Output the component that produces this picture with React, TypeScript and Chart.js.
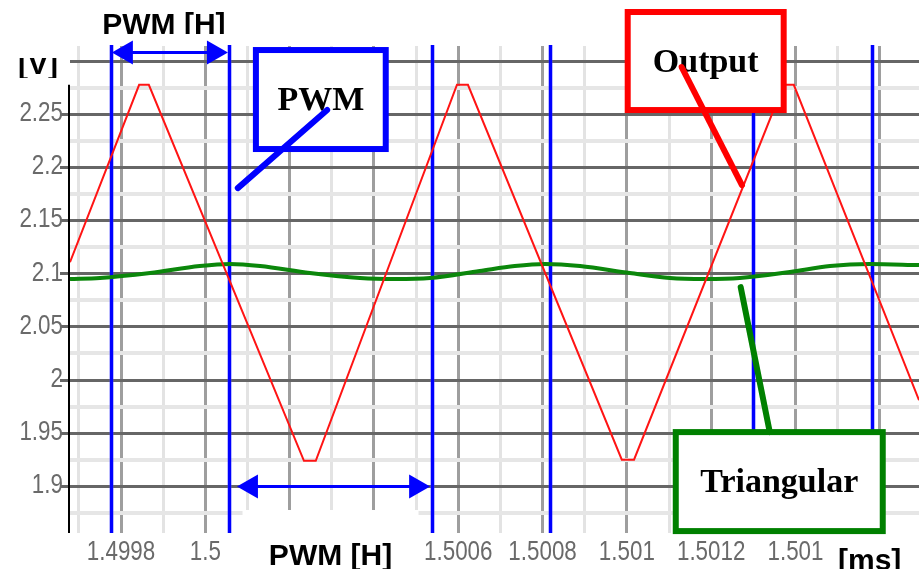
import { useEffect, useRef } from 'react';
import { Chart, registerables } from 'chart.js';

Chart.register(...registerables);

// Time axis in ms, voltage axis in V
const X_MIN = 1.499679;
const X_MAX = 1.501693;
const Y_MIN = 1.856;
const Y_MAX = 2.3145;

// Output (red triangle wave): vertex times and voltages
const outputTime = [
  1.499679, 1.499843, 1.499866, 1.500234, 1.500262, 1.500597,
  1.500623, 1.500988, 1.501017, 1.501372, 1.501396, 1.501693,
];
const outputVolts = [
  2.111, 2.278, 2.278, 1.924, 1.924, 2.278,
  2.278, 1.925, 1.925, 2.278, 2.278, 1.981,
];

// Triangular carrier (green, small ripple around 2.1 V)
const triangularTime = [
  1.499679, 1.49975, 1.499869, 1.499987, 1.500059, 1.50013, 1.500248,
  1.500367, 1.50045, 1.500533, 1.500651, 1.500734, 1.500806, 1.500889,
  1.501007, 1.501102, 1.501185, 1.501268, 1.501387, 1.501482, 1.501576,
  1.501693,
];
const triangularVolts = [
  2.0951, 2.096, 2.1007, 2.1073, 2.1092, 2.1073, 2.1007,
  2.096, 2.0951, 2.096, 2.1026, 2.1073, 2.1092, 2.1073,
  2.1007, 2.096, 2.0951, 2.096, 2.1017, 2.1073, 2.1092,
  2.1082,
];

// PWM switching edges (blue verticals), ms
const pwmEdges = [1.499776, 1.500056, 1.500538, 1.500817, 1.501299, 1.501581];

// Axis ticks
const xMajorTicks = [1.4998, 1.5, 1.5002, 1.5004, 1.5006, 1.5008, 1.501, 1.5012, 1.5014, 1.5016];
const xMajorLabels = ['1.4998', '1.5', '', '', '1.5006', '1.5008', '1.501', '1.5012', '1.501', ''];
const xMinorTicks = [1.4997, 1.4999, 1.5001, 1.5003, 1.5005, 1.5007, 1.5009, 1.5011, 1.5013, 1.5015];

const yMajorTicks = [1.9, 1.95, 2, 2.05, 2.1, 2.15, 2.2, 2.25, 2.3];
const yMajorLabels = ['1.9', '1.95', '2', '2.05', '2.1', '2.15', '2.2', '2.25', ''];
const yMinorTicks = [1.875, 1.925, 1.975, 2.025, 2.075, 2.125, 2.175, 2.225, 2.275];

type TickDef = { value: number; isMajor: boolean; text: string };

function buildTicks(major: number[], labels: string[], minor: number[]): TickDef[] {
  const list: TickDef[] = [
    ...major.map((v, i) => ({ value: v, isMajor: true, text: labels[i] })),
    ...minor.map((v) => ({ value: v, isMajor: false, text: '' })),
  ];
  return list.sort((a, b) => a.value - b.value);
}

const xTicks = buildTicks(xMajorTicks, xMajorLabels, xMinorTicks);
const yTicks = buildTicks(yMajorTicks, yMajorLabels, yMinorTicks);

// Callout boxes (data coordinates) with their pointer lines
const callouts = [
  {
    text: 'PWM', color: '#0000ff',
    box: [1.50012, 2.3107, 1.500428, 2.2175],
    pointer: [1.500289, 2.2542, 1.500077, 2.1807],
  },
  {
    text: 'Output', color: '#ff0000',
    box: [1.501002, 2.3465, 1.501372, 2.2542],
    pointer: [1.50113, 2.2947, 1.501273, 2.1836],
  },
  {
    text: 'Triangular', color: '#008000',
    box: [1.501116, 1.951, 1.501607, 1.8578],
    pointer: [1.501339, 1.951, 1.50127, 2.0875],
  },
];

// PWM period arrows between consecutive edges
const pwmArrows = [
  { from: 0, to: 1, level: 2.3088, gapL: 1, gapR: 1, labelShift: -6, labelSide: 'top' },
  { from: 1, to: 2, level: 1.9, gapL: 8, gapR: 2, labelShift: -3, labelSide: 'bottom' },
];

const TICK_FONT = "28px 'Liberation Sans', Arial, sans-serif";
const TICK_SQUEEZE = 0.8;
const TICK_COLOR = '#6a6a6a';
const LABEL_FONT = "bold 30px 'Liberation Sans', Arial, sans-serif";
const BOX_FONT = "bold 34px 'Liberation Serif', 'Times New Roman', serif";

function arrowHead(ctx: CanvasRenderingContext2D, tipX: number, y: number, dir: number) {
  ctx.beginPath();
  ctx.moveTo(tipX, y);
  ctx.lineTo(tipX - dir * 21, y - 12);
  ctx.lineTo(tipX - dir * 21, y + 12);
  ctx.closePath();
  ctx.fill();
}

// Narrow tick text: horizontally condensed glyphs
function squeezedText(ctx: CanvasRenderingContext2D, text: string, x: number, y: number) {
  ctx.save();
  ctx.translate(x, y);
  ctx.scale(TICK_SQUEEZE, 1);
  ctx.fillText(text, 0, 0);
  ctx.restore();
}

const overlayPlugin = {
  id: 'pwmOverlay',
  beforeDatasetsDraw(chart: any) {
    const { ctx, chartArea, scales } = chart;
    ctx.save();
    for (const t of pwmEdges) {
      const x = Math.round(scales.x.getPixelForValue(t)) + 0.5;
      ctx.strokeStyle = 'rgba(60,60,255,0.35)';
      ctx.lineWidth = 5;
      ctx.beginPath();
      ctx.moveTo(x, chartArea.top - 1);
      ctx.lineTo(x, chartArea.bottom);
      ctx.stroke();
      ctx.strokeStyle = '#0000ff';
      ctx.lineWidth = 3;
      ctx.beginPath();
      ctx.moveTo(x, chartArea.top - 1);
      ctx.lineTo(x, chartArea.bottom);
      ctx.stroke();
    }
    ctx.restore();
  },
  afterDraw(chart: any) {
    const { ctx, chartArea, scales } = chart;
    const X = (t: number) => scales.x.getPixelForValue(t);
    const Y = (v: number) => scales.y.getPixelForValue(v);
    ctx.save();

    // tick labels
    ctx.fillStyle = TICK_COLOR;
    ctx.font = TICK_FONT;
    ctx.textBaseline = 'alphabetic';
    ctx.textAlign = 'center';
    for (const t of xTicks) {
      if (t.text) squeezedText(ctx, t.text, X(t.value), chartArea.bottom + 27);
    }
    ctx.textAlign = 'right';
    ctx.textBaseline = 'middle';
    for (const t of yTicks) {
      if (t.text) squeezedText(ctx, t.text, chartArea.left - 7, Y(t.value) - 1);
    }

    // y axis line
    ctx.strokeStyle = '#000';
    ctx.lineWidth = 2;
    ctx.beginPath();
    ctx.moveTo(chartArea.left - 1, Y(2.28) + 2);
    ctx.lineTo(chartArea.left - 1, chartArea.bottom);
    ctx.stroke();

    // period arrows and their labels
    for (const a of pwmArrows) {
      const x0 = X(pwmEdges[a.from]) + a.gapL;
      const x1 = X(pwmEdges[a.to]) - a.gapR;
      const y = Math.round(Y(a.level)) + 0.5;
      ctx.strokeStyle = '#0000ff';
      ctx.fillStyle = '#0000ff';
      ctx.lineWidth = 3;
      ctx.beginPath();
      ctx.moveTo(x0 + 10, y);
      ctx.lineTo(x1 - 10, y);
      ctx.stroke();
      arrowHead(ctx, x0, y, -1);
      arrowHead(ctx, x1, y, 1);

      const cx = (x0 + x1) / 2 + a.labelShift;
      ctx.font = LABEL_FONT;
      ctx.textAlign = 'center';
      ctx.textBaseline = 'alphabetic';
      if (a.labelSide === 'top') {
        ctx.save();
        ctx.beginPath();
        ctx.rect(0, 0, chart.width, 34);
        ctx.clip();
        ctx.fillStyle = '#000';
        ctx.fillText('PWM [H]', cx, 33.5);
        ctx.restore();
      } else {
        ctx.fillStyle = '#fff';
        ctx.fillRect(cx - 88, chartArea.bottom - 23, 176, chart.height - chartArea.bottom + 23);
        ctx.fillStyle = '#000';
        ctx.fillText('PWM [H]', cx, 565);
      }
    }

    // callout boxes
    for (const c of callouts) {
      const bx0 = X(c.box[0]);
      const by0 = Y(c.box[1]);
      const bx1 = X(c.box[2]);
      const by1 = Y(c.box[3]);
      ctx.fillStyle = '#fff';
      ctx.fillRect(bx0, by0, bx1 - bx0, by1 - by0);
      ctx.strokeStyle = c.color;
      ctx.lineWidth = 6;
      ctx.strokeRect(bx0, by0, bx1 - bx0, by1 - by0);
      ctx.fillStyle = '#000';
      ctx.font = BOX_FONT;
      ctx.textAlign = 'center';
      ctx.textBaseline = 'middle';
      ctx.fillText(c.text, (bx0 + bx1) / 2, (by0 + by1) / 2 + 2);
    }
    for (const c of callouts) {
      ctx.strokeStyle = c.color;
      ctx.lineWidth = 6;
      ctx.lineCap = 'round';
      ctx.beginPath();
      ctx.moveTo(X(c.pointer[0]), Y(c.pointer[1]));
      ctx.lineTo(X(c.pointer[2]), Y(c.pointer[3]));
      ctx.stroke();
    }

    // axis unit labels
    ctx.fillStyle = '#000';
    ctx.font = LABEL_FONT;
    ctx.textAlign = 'left';
    ctx.textBaseline = 'alphabetic';
    ctx.save();
    ctx.beginPath();
    ctx.rect(0, 58, 70, 20);
    ctx.clip();
    ctx.fillText('[V]', 18, 74);
    ctx.restore();
    ctx.fillText('[ms]', 838, 570);

    ctx.restore();
  },
};

export default function App() {
  const canvasRef = useRef<HTMLCanvasElement | null>(null);

  useEffect(() => {
    const canvas = canvasRef.current;
    if (!canvas) return;
    const chart = new Chart(canvas, {
      type: 'line',
      data: {
        datasets: [
          {
            label: 'Output',
            data: outputTime.map((t, i) => ({ x: t, y: outputVolts[i] })),
            borderColor: '#ff1414',
            borderWidth: 2,
            pointRadius: 0,
            tension: 0,
          },
          {
            label: 'Triangular',
            data: triangularTime.map((t, i) => ({ x: t, y: triangularVolts[i] })),
            borderColor: '#0b870b',
            borderWidth: 4,
            pointRadius: 0,
            cubicInterpolationMode: 'monotone',
          },
        ],
      },
      options: {
        responsive: false,
        animation: false,
        layout: { padding: { top: 46, left: 0, right: 0, bottom: 0 } },
        plugins: { legend: { display: false }, tooltip: { enabled: false } },
        scales: {
          x: {
            type: 'linear',
            min: X_MIN,
            max: X_MAX,
            afterBuildTicks: (s: any) => {
              s.ticks = xTicks.map((t) => ({ ...t }));
            },
            afterFit: (s: any) => {
              s.height = 36;
            },
            border: { display: false },
            grid: {
              drawTicks: false,
              color: (c: any) => (c.tick && c.tick.isMajor ? '#9e9e9e' : '#e3e3e3'),
              lineWidth: 3,
            },
            ticks: {
              autoSkip: false,
              maxRotation: 0,
              minRotation: 0,
              callback: () => '',
            },
          },
          y: {
            type: 'linear',
            min: Y_MIN,
            max: Y_MAX,
            afterBuildTicks: (s: any) => {
              s.ticks = yTicks.map((t) => ({ ...t }));
            },
            afterFit: (s: any) => {
              s.width = 70;
            },
            border: { display: false },
            grid: {
              drawTicks: true,
              tickLength: 10,
              color: (c: any) => (c.tick && c.tick.isMajor ? '#666666' : '#e6e6e6'),
              lineWidth: (c: any) => (c.tick && c.tick.isMajor ? 3 : 4),
              tickColor: (c: any) =>
                c.tick && c.tick.isMajor && c.tick.text ? '#666666' : 'rgba(0,0,0,0)',
              tickWidth: 3,
            },
            ticks: {
              autoSkip: false,
              callback: () => '',
            },
          },
        },
      },
      plugins: [overlayPlugin],
    } as any);
    return () => chart.destroy();
  }, []);

  return (
    <div style={{ position: 'fixed', left: 0, top: 0, width: 919, height: 569, background: '#fff' }}>
      <canvas ref={canvasRef} width={919} height={569} />
    </div>
  );
}
